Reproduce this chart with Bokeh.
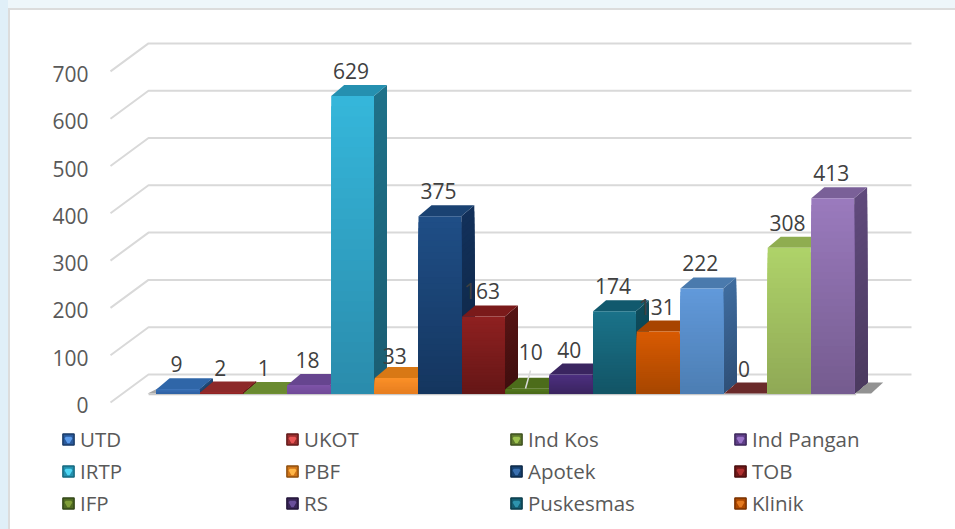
from bokeh.plotting import figure
from bokeh.models import FixedTicker, Legend, LegendItem, ColumnDataSource, Range1d
from bokeh.core.properties import value
from bokeh.embed import file_html
from bokeh.resources import INLINE

categories = ["UTD", "UKOT", "Ind Kos", "Ind Pangan", "IRTP", "PBF", "Apotek", "TOB",
              "IFP", "RS", "Puskesmas", "Klinik", "S13", "S14", "S15", "S16"]
values = [9, 2, 1, 18, 629, 33, 375, 163, 10, 40, 174, 131, 222, 0, 308, 413]
legend_count = 12
tick_values = [0, 100, 200, 300, 400, 500, 600, 700]
front_top = ["#3a72b8", "#9a2c2c", "#77993a", "#7f55a8", "#35b6da", "#fb9028", "#1f4e86", "#8e2020",
             "#55791f", "#4d3080", "#1a7289", "#d85a02", "#6199da", "#6e2b2b", "#aed269", "#9a7abd"]
front_bot = ["#2f62a4", "#8c2626", "#6b8c30", "#704a98", "#2a8bab", "#e67d20", "#14355e", "#641616",
             "#4a6c1a", "#3a2460", "#125465", "#a64600", "#4c7db2", "#642626", "#8fa855", "#745b8e"]
side_top = ["#27507f", "#6e1e1e", "#506a24", "#553872", "#1f7189", "#b8641a", "#12305a", "#561414",
            "#3b5414", "#2c1b4a", "#0e4c5c", "#933c00", "#3f6c9e", "#4d1c1c", "#7b9a48", "#604a7c"]
side_bot = ["#214368", "#5c1818", "#43591c", "#472e60", "#1a5d72", "#9c5414", "#0e2644", "#3f0e0e",
            "#304410", "#24163c", "#0b3e4b", "#7a3200", "#2f5078", "#401616", "#667f3a", "#4b3a5f"]
cap = ["#2f66a8", "#8c2929", "#6a8a30", "#66458f", "#2590b0", "#d87815", "#1a4272", "#7a1a1a",
       "#4c6c1a", "#3a2560", "#11596d", "#a84400", "#4a7aad", "#6a2a2a", "#8fad50", "#7a6098"]
legend_base = ["#2a5a9c", "#9a2e2e", "#5f7a2e", "#5f3f88", "#2390ae", "#d07518", "#16406f", "#701818",
               "#4f6a22", "#382556", "#135c70", "#ad4800", "#4a7aad", "#642626", "#8fa855", "#745b8e"]
legend_light = ["#5b9bea", "#e85555", "#9dc24f", "#9a74c8", "#4fd6f4", "#ffb648", "#3a70b0", "#b03030",
                "#7f9e38", "#6a4f9a", "#2e94ad", "#e47a20", "#7fb0ea", "#8a3a3a", "#c8e48a", "#b49ad6"]
legend_edge = ["#1b3c68", "#631c1c", "#3f5220", "#3f2a5c", "#176a80", "#8f5010", "#0e2a48", "#4a0f0f",
               "#34481a", "#24163a", "#0c3e4c", "#7a3200", "#2f5078", "#401616", "#667f3a", "#4b3a5f"]
label_dx = [-1.5] * 16
label_dx[8] = 3.5
label_dy = [26] * 16
label_dy[5] = 23
label_dy[8] = 38

PX_Y = 0.473          # px per value unit
PX_X = 43.65          # px per category
DEPTH_X = 13 / PX_X
DEPTH_Y = 11 / PX_Y
BASE = 9 / PX_Y       # bars stand this far behind the front wall edge
WALL_X = 38 / PX_X
WALL_Y = 28 / PX_Y
HALF = 21.4 / PX_X
BANDS = 30
W, H = 947, 521

X0 = (0 - 177.5) / PX_X
X1 = (W - 177.5) / PX_X
XW = (110 - 177.5) / PX_X
Y0 = (402 - H) / PX_Y
Y1 = 402 / PX_Y
TICK_SHIFT = 2.5 / PX_Y


def mix(a, b, t):
    pa = [int(a[i:i + 2], 16) for i in (1, 3, 5)]
    pb = [int(b[i:i + 2], 16) for i in (1, 3, 5)]
    return "#%02x%02x%02x" % tuple(round(u + (v - u) * t) for u, v in zip(pa, pb))


p = figure(width=W, height=H, x_range=(X0, X1), y_range=(Y0, Y1),
           output_backend="svg", toolbar_location=None,
           min_border_left=0, min_border_right=0, min_border_top=0, min_border_bottom=0,
           border_fill_alpha=0, background_fill_alpha=0, outline_line_color=None)
p.extra_y_ranges = {"ticks": Range1d(Y0 + TICK_SHIFT, Y1 + TICK_SHIFT)}
p.xaxis.visible = False
p.xgrid.visible = False
p.ygrid.visible = False
ax = p.yaxis[0]
ax.y_range_name = "ticks"
ax.fixed_location = XW
ax.ticker = FixedTicker(ticks=tick_values)
ax.axis_line_color = None
ax.major_tick_line_color = None
ax.minor_tick_line_color = None
ax.major_label_standoff = 16
ax.major_label_text_font = "Open Sans"
ax.major_label_text_font_size = "21px"
ax.major_label_text_color = "#595959"

p.multi_line(xs=[[XW, XW + WALL_X, XW + 801 / PX_X] for _ in tick_values],
             ys=[[t, t + WALL_Y, t + WALL_Y] for t in tick_values],
             line_color="#d9d9d9", line_width=2)

# floor shadow
p.patch(x=[0 - HALF - 9 / PX_X, 0 - HALF + DEPTH_X, 0 - HALF], y=[BASE, BASE + DEPTH_Y, BASE],
        fill_color="#8a8a8a", fill_alpha=0.75, line_color=None)
p.patch(x=[15 + HALF, 15 + HALF + DEPTH_X, 15 + HALF + DEPTH_X + 16 / PX_X, 15 + HALF + DEPTH_X + 4 / PX_X],
        y=[BASE, BASE + DEPTH_Y, BASE + DEPTH_Y, BASE], fill_color="#777777", fill_alpha=0.8, line_color=None)
p.line(x=[0 - HALF - 8 / PX_X, 15 + HALF + 2 / PX_X], y=[BASE - 1.5, BASE - 1.5], line_color="#c8c8c8", line_width=2)

xs, ys, colors = [], [], []
for i, v in enumerate(values):
    l, r = i - HALF, i + HALF
    b = BASE
    t = BASE + v
    h = t - b
    for k in range(BANDS):
        f = k / (BANDS - 1)
        s_t = t - h * f
        xs.append([r, r + DEPTH_X, r + DEPTH_X, r])
        ys.append([b, b + DEPTH_Y, s_t + DEPTH_Y, s_t])
        colors.append(mix(side_top[i], side_bot[i], f))
    xs.append([l, l + DEPTH_X, r + DEPTH_X, r])
    ys.append([t, t + DEPTH_Y, t + DEPTH_Y, t])
    colors.append(cap[i])
    for k in range(BANDS):
        f = k / (BANDS - 1)
        s_t = t - h * f
        xs.append([l, r, r, l])
        ys.append([b, b, s_t, s_t])
        colors.append(mix(front_top[i], front_bot[i], f))

p.patches(xs="xs", ys="ys", fill_color="colors", line_color=None,
          source=ColumnDataSource(dict(xs=xs, ys=ys, colors=colors)))

# legend keys: drawn only in the legend (their coordinates are empty)
nan = float("nan")
n = len(values)
key_src = ColumnDataSource(dict(l=[nan] * n, r=[nan] * n, b=[nan] * n, t=[nan] * n,
                                fill=legend_base, light=legend_light, edge=legend_edge))
key_box = p.quad(left="l", right="r", bottom="b", top="t", fill_color="fill", line_color="edge",
                 line_width=1.5, source=key_src)
key_tri = p.scatter(x="l", y="b", marker="inverted_triangle", fill_color="light", line_color="light",
                    line_width=2.5, source=key_src)

p.line(x=[8 - 1.7 / PX_X, 8 + 3.3 / PX_X], y=[BASE + 5 / PX_Y, BASE + 23 / PX_Y], line_color="#d9d9d9", line_width=1.5)

p.text(x=[i + dx / PX_X for i, dx in enumerate(label_dx)],
       y=[BASE + v for v in values],
       y_offset=[-d + 1 for d in label_dy],
       text=[str(v) for v in values],
       text_font=value("Open Sans"), text_font_size="21px", text_color="#404040",
       text_align="center", text_baseline="middle")

legend = Legend(items=[LegendItem(label=categories[i], renderers=[key_box, key_tri], index=i)
                       for i in range(legend_count)],
                location=(61, 4), ncols=4, orientation="horizontal",
                label_text_font="Open Sans", label_text_font_size="20.5px", label_text_color="#595959",
                glyph_width=14, glyph_height=14, label_standoff=5, label_width=201,
                label_height=20, spacing=4, margin=0, padding=0,
                background_fill_alpha=0, border_line_color=None)
p.add_layout(legend)

html = file_html(p, INLINE)
css = ("<style>html{background:"
       "linear-gradient(#e0eff8,#e0eff8) 0 0/8px 100% no-repeat,"
       "linear-gradient(#eef6fa,#eef6fa) 0 0/100% 8px no-repeat,"
       "linear-gradient(#dcdcdc,#dcdcdc) 8px 8px/2px 100% no-repeat,"
       "linear-gradient(#dcdcdc,#dcdcdc) 8px 8px/100% 2px no-repeat,"
       "#ffffff;}body{background:transparent;}</style>")
html = html.replace("</head>", css + "</head>", 1)
open("out.html", "w").write(html)
